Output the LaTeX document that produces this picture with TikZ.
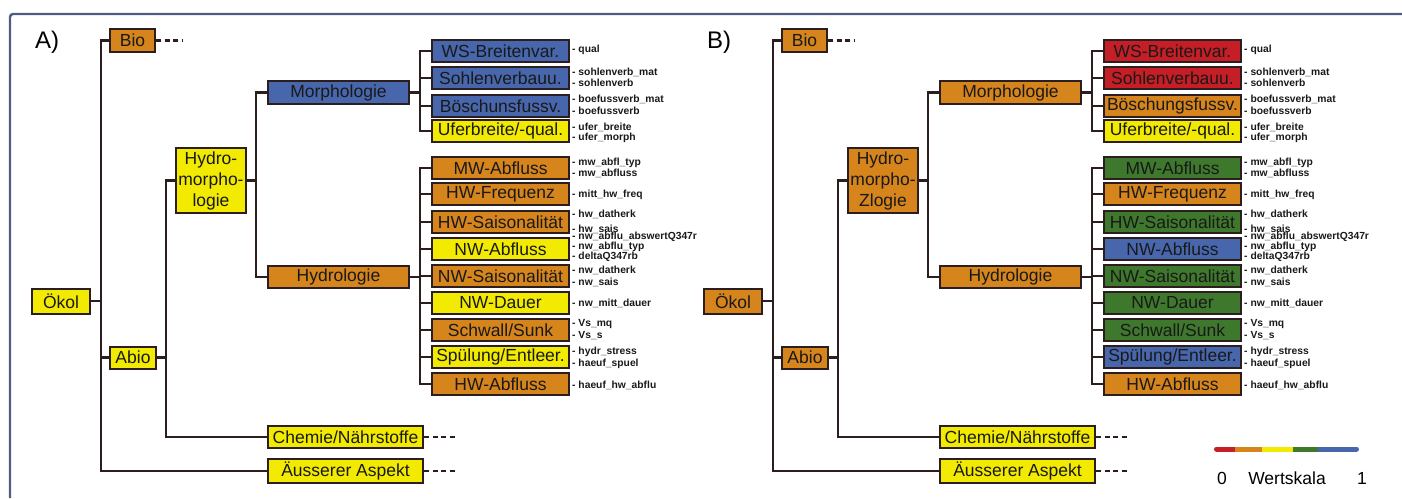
\documentclass[tikz,border=0pt]{standalone}
\usepackage{fontspec}
\setmainfont{Liberation Sans}
\usetikzlibrary{positioning}

\definecolor{wred}{RGB}{198,30,38}
\definecolor{worange}{RGB}{214,132,28}
\definecolor{wyellow}{RGB}{242,234,0}
\definecolor{wgreen}{RGB}{62,120,44}
\definecolor{wblue}{RGB}{72,102,172}
\definecolor{wline}{RGB}{44,30,30}
\definecolor{wframe}{RGB}{80,92,132}

% leaves: y / text / colour
\def\leavesA{51/WS-Breitenvar./wblue,78/Sohlenverbauu./wblue,106/Böschunsfussv./wblue,
131/{Uferbreite/-qual.}/wyellow,168/MW-Abfluss/worange,194/HW-Frequenz/worange,
222/HW-Saisonalität/worange,249/NW-Abfluss/wyellow,276/NW-Saisonalität/worange,
303/NW-Dauer/wyellow,330/{Schwall/Sunk}/worange,357/{Spülung/Entleer.}/wyellow,
384/HW-Abfluss/worange}
\def\leavesB{51/WS-Breitenvar./wred,78/Sohlenverbauu./wred,106/Böschungsfussv./worange,
131/{Uferbreite/-qual.}/wyellow,168/MW-Abfluss/wgreen,194/HW-Frequenz/worange,
222/HW-Saisonalität/wgreen,249/NW-Abfluss/wblue,276/NW-Saisonalität/wgreen,
303/NW-Dauer/wgreen,330/{Schwall/Sunk}/wgreen,357/{Spülung/Entleer.}/wblue,
384/HW-Abfluss/worange}
% variable names: y / text
\def\tags{50/qual,72/sohlenverb\_mat,83/sohlenverb,99/boefussverb\_mat,111/boefussverb,
127/ufer\_breite,138/ufer\_morph,163/mw\_abfl\_typ,173/mw\_abfluss,195/mitt\_hw\_freq,
214/hw\_datherk,229/hw\_sais,237/nw\_abflu\_abswertQ347r,247/nw\_abflu\_typ,257/deltaQ347rb,
270/nw\_datherk,282/nw\_sais,303/nw\_mitt\_dauer,324/Vs\_mq,336/Vs\_s,352/hydr\_stress,
364/haeuf\_spuel,385/haeuf\_hw\_abflu}

\begin{document}
\begin{tikzpicture}[x=1pt,y=-1pt,
  box/.style={draw=wline,line width=2pt,inner sep=0pt,text=black!90,
    font=\fontsize{17.5}{21}\selectfont,minimum height=23},
  leaf/.style={box,minimum width=137,minimum height=22},
  conn/.style={wline,line width=2.2pt},
  more/.style={conn,dash pattern=on 5pt off 3.5pt},
  tag/.style={anchor=west,inner sep=0pt,text=black!90,font=\bfseries\fontsize{10.3}{10.3}\selectfont}]
\useasboundingbox (0,0) rectangle (1402,498);
\draw [wframe,line width=2.4pt,rounded corners=3] (1402,14) -- (10,14) -- (10,498);
\foreach \p/\dx/\cok/\cmo/\hy in {A/0/wyellow/wblue/logie,B/672/worange/worange/Zlogie}{
\begin{scope}[xshift=\dx]
\node [font=\fontsize{24}{24}\selectfont] (\p lab) at (47,42) {\p)};
          %tree
\node [box,fill=\cok,minimum width=58,minimum height=25] (\p okol) at (61,301) {Ökol};
\node [box,fill=worange,minimum width=45] (\p bio) at (132.5,40.5) {Bio};
\node [box,fill=\cok,minimum width=46,minimum height=22] (\p abio) at (133,357.5) {Abio};
\node [box,fill=\cok,minimum width=70,minimum height=65,align=center] (\p hydro) at (211,180.5) {Hydro-\\morpho-\\\hy};
\node [box,fill=\cmo,minimum width=141] (\p morph) at (338.5,92.5) {Morphologie};
\node [box,fill=worange,minimum width=141,minimum height=22] (\p hydrol) at (338.5,277) {Hydrologie};
\node [box,fill=wyellow,minimum width=155,minimum height=22] (\p chem) at (345.5,437) {Chemie/Nährstoffe};
\node [box,fill=wyellow,minimum width=155,minimum height=24] (\p auss) at (345.5,471) {Äusserer Aspekt};
\expandafter\let\expandafter\lst\csname leaves\p\endcsname
\foreach \ly/\txt/\col [count=\i] in \lst{
\node [leaf,fill=\col] (\p\i) at (500.5,\ly) {\txt};
}
          %connectors
\foreach \c in {bio,abio,auss}{
\draw [conn] (\p okol.east) -- ++(10,0) |- (\p\c.west);
}
\foreach \c in {hydro,chem}{
\draw [conn] (\p abio.east) -- ++(9,0) |- (\p\c.west);
}
\foreach \c in {morph,hydrol}{
\draw [conn] (\p hydro.east) -- ++(9,0) |- (\p\c.west);
}
\foreach \i in {1,...,4}{
\draw [conn] (\p morph.east) -- ++(10,0) |- (\p\i.west);
}
\foreach \i in {5,...,13}{
\draw [conn] (\p hydrol.east) -- ++(10,0) |- (\p\i.west);
}
\draw [more] (\p bio.east) -- ++(27,0);
\foreach \c in {chem,auss}{
\draw [more] (\p\c.east) -- ++(32,0);
}
          %variable names
\foreach \ly/\txt [count=\i] in \tags{
\node [tag] (\p t\i) at (572,\ly) {- \txt};
}
\end{scope}
}
          %colour scale
\draw [wred,line width=5pt,line cap=round] (1216.5,449) -- (1236,449);
\draw [wblue,line width=5pt,line cap=round] (1317,449) -- (1356.5,449);
\foreach \c/\a/\b in {worange/1235/1262,wyellow/1262/1293,wgreen/1293/1318}{
\draw [\c,line width=5pt] (\a,449) -- (\b,449);
}
\node [font=\fontsize{17.5}{17.5}\selectfont] (zero) at (1222,478) {0};
\node [font=\fontsize{17.5}{17.5}\selectfont] (scale) at (1287,478) {Wertskala};
\node [font=\fontsize{17.5}{17.5}\selectfont] (one) at (1362,478) {1};
\end{tikzpicture}
\end{document}
